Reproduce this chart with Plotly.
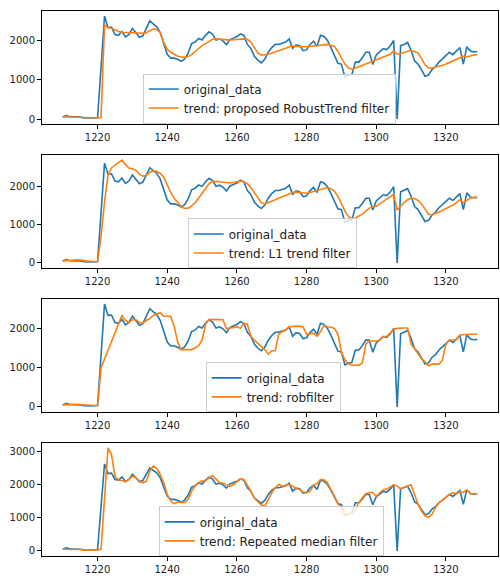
import plotly.graph_objects as go
from plotly.subplots import make_subplots

x_start = 1210
original_data = [50, 90, 60, 60, 60, 50, 30, 20, 25, 30,
                 40, 1320, 2620, 2330, 2340, 2150, 2130, 2230, 2090, 2150,
                 2310, 2200, 2080, 2120, 2300, 2500, 2420, 2350, 2200, 1950,
                 1650, 1550, 1550, 1520, 1470, 1530, 1680, 1920, 1960, 2050,
                 2010, 2130, 2220, 2160, 2010, 2040, 1990, 1890, 2020, 2060,
                 2100, 2170, 2130, 1900, 1800, 1600, 1500, 1430, 1520, 1700,
                 1820, 1900, 1900, 1930, 1960, 2040, 1800, 1890, 1870, 1740,
                 1760, 1900, 1980, 1850, 2130, 2100, 2000, 1820, 1640, 1420,
                 1400, 1070, 1120, 1130, 1450, 1450, 1560, 1700, 1700, 1390,
                 1630, 1700, 1790, 1770, 1860, 2000, 0, 1870, 1900, 1950,
                 1750, 1480, 1400, 1250, 1090, 1120, 1260, 1330, 1450, 1530,
                 1620, 1700, 1640, 1730, 1820, 1400, 1840, 1730, 1710, 1720]

trend_robusttrend = [50, 55, 50, 50, 45, 40, 30, 30, 30, 30,
                     30, 40, 2400, 2330, 2310, 2260, 2230, 2210, 2200, 2200,
                     2200, 2200, 2190, 2180, 2200, 2250, 2290, 2280, 2200, 1950,
                     1780, 1700, 1640, 1600, 1580, 1570, 1590, 1640, 1720, 1800,
                     1870, 1920, 1980, 2030, 2040, 2030, 2020, 2010, 2010, 2020,
                     2030, 2040, 2040, 2030, 1960, 1820, 1680, 1630, 1630, 1650,
                     1680, 1700, 1730, 1760, 1800, 1840, 1860, 1850, 1840, 1840,
                     1840, 1850, 1860, 1870, 1890, 1900, 1900, 1880, 1850, 1720,
                     1550, 1400, 1300, 1270, 1300, 1330, 1360, 1400, 1430, 1470,
                     1510, 1540, 1570, 1610, 1650, 1740, 1650, 1670, 1700, 1730,
                     1750, 1720, 1680, 1540, 1380, 1300, 1300, 1320, 1340, 1370,
                     1400, 1440, 1480, 1520, 1560, 1600, 1580, 1610, 1630, 1640]

trend_l1 = [50, 60, 75, 80, 80, 75, 60, 45, 35, 30,
            30, 700, 1600, 2300, 2500, 2570, 2620, 2700, 2580, 2490,
            2470, 2430, 2330, 2280, 2300, 2380, 2420, 2400, 2350, 2250,
            2050, 1850, 1700, 1580, 1480, 1430, 1440, 1500, 1580, 1700,
            1830, 1960, 2080, 2130, 2140, 2130, 2120, 2100, 2100, 2110,
            2120, 2150, 2130, 2080, 1980, 1850, 1700, 1580, 1550, 1580,
            1620, 1660, 1700, 1730, 1770, 1810, 1850, 1860, 1850, 1840,
            1830, 1850, 1880, 1910, 1940, 1970, 1980, 1950, 1880, 1750,
            1560, 1360, 1220, 1170, 1180, 1220, 1280, 1360, 1440, 1470,
            1490, 1550, 1610, 1670, 1730, 1800, 1390, 1500, 1590, 1660,
            1700, 1690, 1640, 1550, 1400, 1280, 1260, 1290, 1340, 1380,
            1420, 1470, 1520, 1580, 1660, 1580, 1650, 1700, 1720, 1740]

trend_robfilter = [50, 60, 65, 65, 65, 60, 55, 50, 40, 35,
                   30, 1000, 1230, 1450, 1680, 1900, 2120, 2330, 2200, 2150,
                   2220, 2220, 2150, 2130, 2200, 2250, 2330, 2370, 2400, 2310,
                   2310, 2310, 2050, 1650, 1460, 1460, 1460, 1460, 1500, 1560,
                   1700, 2100, 2230, 2230, 2230, 2230, 2220, 1990, 2010, 2030,
                   2040, 2000, 2120, 2110, 1800, 1700, 1620, 1540, 1460, 1340,
                   1430, 1430, 1850, 1920, 1950, 2040, 2050, 2050, 2050, 2040,
                   1850, 1870, 1880, 1800, 1920, 2080, 2040, 2030, 2000, 1850,
                   1400, 1200, 1100, 1060, 1060, 1060, 1120, 1600, 1680, 1680,
                   1680, 1700, 1790, 1790, 1880, 1970, 2000, 2010, 2010, 2010,
                   1600, 1480, 1350, 1230, 1150, 1050, 1090, 1090, 1090, 1190,
                   1600, 1700, 1700, 1710, 1830, 1840, 1850, 1850, 1850, 1850]

trend_repeated_median = [50, 50, 50, 50, 50, 40, 20, 20, 20, 20,
                         30, 50, 1575, 3100, 2900, 2250, 2130, 2120, 2080, 2150,
                         2250, 2210, 2100, 2050, 2100, 2400, 2560, 2480, 2300, 2050,
                         1700, 1500, 1420, 1470, 1460, 1450, 1550, 1800, 1960, 2060,
                         2100, 2110, 2200, 2260, 2160, 2060, 2040, 1980, 1940, 2000,
                         2080, 2170, 2150, 1990, 1800, 1590, 1480, 1380, 1350, 1550,
                         1750, 1900, 2000, 1950, 1980, 2000, 1950, 1880, 1850, 1770,
                         1750, 1790, 1980, 2020, 2150, 2140, 2050, 1850, 1640, 1430,
                         1300, 1080, 1100, 1150, 1250, 1450, 1600, 1720, 1760, 1760,
                         1640, 1730, 1840, 1860, 1920, 1990, 1950, 1870, 1920, 1960,
                         1990, 1700, 1400, 1200, 1050, 1020, 1100, 1300, 1450, 1530,
                         1610, 1700, 1750, 1720, 1780, 1760, 1840, 1720, 1720, 1720]

trend_names = ["trend: proposed RobustTrend filter",
               "trend: L1 trend filter",
               "trend: robfilter",
               "trend: Repeated median filter"]
trends = [trend_robusttrend, trend_l1, trend_robfilter, trend_repeated_median]

x_ticks = [1220, 1240, 1260, 1280, 1300, 1320]
y_ticks = [[0, 1000, 2000], [0, 1000, 2000], [0, 1000, 2000], [0, 1000, 2000, 3000]]

x_vals = list(range(x_start, x_start + len(original_data)))

BLUE = "#1f77b4"
ORANGE = "#ff7f0e"

W, H = 500, 576
ml, mr, mt, mb = 42, 1, 11, 16
plot_h = H - mt - mb
panels_px = [(11, 125), (156, 270), (301, 415), (446, 560)]
legend_px = [(143, 74), (188, 220), (206, 365), (159, 510)]

fig = make_subplots(rows=4, cols=1)

for i, tr in enumerate(trends):
    r = i + 1
    lg = "legend" if i == 0 else f"legend{i+1}"
    fig.add_trace(go.Scatter(x=x_vals, y=original_data, mode="lines",
                             name="original_data",
                             line=dict(color=BLUE, width=1.6),
                             legend=lg), row=r, col=1)
    fig.add_trace(go.Scatter(x=x_vals, y=tr, mode="lines",
                             name=trend_names[i],
                             line=dict(color=ORANGE, width=1.6),
                             legend=lg), row=r, col=1)

layout_updates = {}
xmin, xmax = x_vals[0], x_vals[-1]
xm = 0.05 * (xmax - xmin)
for i in range(4):
    top, bot = panels_px[i]
    d0 = (H - mb - bot) / plot_h
    d1 = (H - mb - top) / plot_h
    ymin = min(min(original_data), min(trends[i]))
    ymax = max(max(original_data), max(trends[i]))
    ym = 0.05 * (ymax - ymin)
    suffix = "" if i == 0 else str(i + 1)
    layout_updates["xaxis" + suffix] = dict(
        range=[xmin - xm, xmax + xm], tickvals=x_ticks,
        showline=True, mirror=True, linecolor="black", linewidth=1,
        ticks="outside", ticklen=4, tickcolor="black",
        showgrid=False, zeroline=False,
        tickfont=dict(family="DejaVu Sans", size=10, color="#222"))
    layout_updates["yaxis" + suffix] = dict(
        domain=[d0, d1], range=[ymin - ym, ymax + ym], tickvals=y_ticks[i],
        showline=True, mirror=True, linecolor="black", linewidth=1,
        ticks="outside", ticklen=4, tickcolor="black",
        showgrid=False, zeroline=False,
        tickfont=dict(family="DejaVu Sans", size=10, color="#222"))
    lx, ly = legend_px[i]
    lname = "legend" if i == 0 else f"legend{i+1}"
    layout_updates[lname] = dict(
        x=(lx - ml) / (W - ml - mr), y=(H - mb - ly) / plot_h,
        xanchor="left", yanchor="top",
        bgcolor="rgba(255,255,255,0.8)", bordercolor="#cccccc", borderwidth=1,
        font=dict(family="DejaVu Sans", size=12, color="#222"),
        tracegroupgap=0, itemwidth=30)

fig.update_layout(**layout_updates)
fig.update_layout(width=W, height=H, margin=dict(l=ml, r=mr, t=mt, b=mb),
                  plot_bgcolor="white", paper_bgcolor="white",
                  showlegend=True)

fig.write_html("out.html", config={"displayModeBar": False},
               post_script="document.body.style.margin='0';")
